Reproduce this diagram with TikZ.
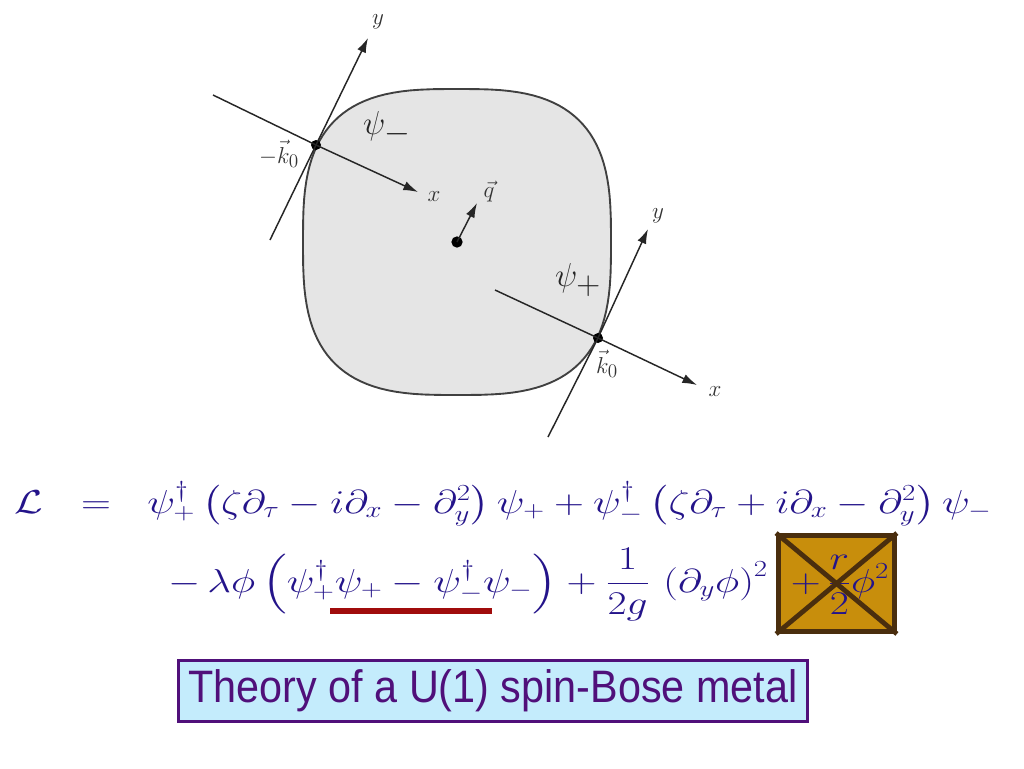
\documentclass[tikz,border=0pt]{standalone}
\usepackage{amsmath}
\usepackage{fontspec}
\setsansfont{Liberation Sans}
\usetikzlibrary{arrows.meta}

\definecolor{eqblue}{HTML}{24148A}
\definecolor{ochre}{HTML}{C88E0C}
\definecolor{darkbrown}{HTML}{4A2E0E}
\definecolor{titlecyan}{HTML}{C4ECFC}
\definecolor{titlepurple}{HTML}{50107A}
\definecolor{underred}{HTML}{A00C0C}

\newcommand{\wide}[1]{\scalebox{1.25}[1]{#1}}

\begin{document}
\begin{tikzpicture}[
        x=0.75pt, y=-0.75pt,
        every node/.style={inner sep=0pt},
        fermi/.style={draw=black!75, line width=1.4pt, fill=black!10},
        axis/.style={-{Latex[length=11pt,width=7pt]}, line width=1.1pt, draw=black!85},
        kdot/.style={circle, fill=black, minimum size=7.5pt},
        axlabel/.style={text=black!80, font=\fontsize{19}{22}\selectfont},
        psilabel/.style={text=black!85, font=\fontsize{35}{40}\selectfont},
        eqline/.style={text=eqblue, font=\fontsize{26}{31}\selectfont},
        crossbox/.style={draw=darkbrown, fill=ochre, line width=3.6pt, minimum width=87pt, minimum height=72pt},
        title/.style={draw=titlepurple, fill=titlecyan, line width=2.2pt, text=titlepurple,
                      font=\sffamily\fontsize{31}{36}\selectfont, minimum width=472pt, minimum height=46pt}
        ]
        \useasboundingbox (0,0) rectangle (1024,768);

        % Fermi surface
        \draw[fermi] plot[domain=0.5:357.5, samples=120]
            ({457+154*sign(cos(\x))*abs(cos(\x))^(0.6667)}, {242-153*sign(sin(\x))*abs(sin(\x))^(0.6667)}) -- cycle;

        % patch points and center
        \node[kdot] (kminus) at (316,145) {};
        \node[kdot] (kplus) at (598,338) {};
        \node[kdot, minimum size=8.5pt] (ctr) at (457,242) {};

        % local axes at -k0
        \coordinate (xmA) at (213,95);
        \coordinate (xmB) at (418,192);
        \coordinate (ymA) at (270,240);
        \coordinate (ymB) at (368,38);
        \draw[axis] (xmA) -- (kminus.center) -- (xmB);
        \draw[axis] (ymA) -- (kminus.center) -- (ymB);

        % local axes at +k0
        \coordinate (xpA) at (495,290);
        \coordinate (xpB) at (697,385);
        \coordinate (ypA) at (548,437);
        \coordinate (ypB) at (648,229);
        \draw[axis] (xpA) -- (kplus.center) -- (xpB);
        \draw[axis] (ypA) -- (kplus.center) -- (ypB);

        % momentum transfer
        \coordinate (qtip) at (477,203);
        \draw[axis] (ctr.center) -- (qtip);

        % labels
        \node[axlabel] (xm) at (434,197) {$x$};
        \node[axlabel] (ym) at (378,22) {$y$};
        \node[axlabel] (xp) at (715,392) {$x$};
        \node[axlabel] (yp) at (658,216) {$y$};
        \node[axlabel] (qlab) at (489,192) {$\vec{q}$};
        \node[axlabel] (kmlab) at (279,154) {$-\vec{k}_0$};
        \node[axlabel] (kplab) at (607,364) {$\vec{k}_0$};
        \node[psilabel] (psim) at (387,128) {$\psi_-$};
        \node[psilabel] (psip) at (578,280) {$\psi_+$};

        % Lagrangian
        \node[crossbox] (cross) at (836.5,583.5) {};
        \node[eqline, anchor=base] (lag) at (29,513) {\wide{$\mathcal{L}$}};
        \node[eqline, anchor=base] (eqs) at (96,513) {\wide{$=$}};
        \node[eqline, anchor=base west] (line1) at (147,513)
            {\wide{$\psi^\dagger_+\,\big(\zeta\partial_\tau - i\partial_x - \partial_y^2\big)\,\psi_+
              + \psi^\dagger_-\,\big(\zeta\partial_\tau + i\partial_x - \partial_y^2\big)\,\psi_-$}};
        \node[eqline, anchor=base west] (line2) at (168,592)
            {\wide{$\displaystyle -\,\lambda\phi\,\Big(\psi^\dagger_+\psi_+ - \psi^\dagger_-\psi_-\Big)
              + \frac{1}{2g}\,\left(\partial_y\phi\right)^2$}};
        \node[eqline, anchor=base] (massterm) at (840,592)
            {\wide{$\displaystyle +\,\frac{r}{2}\phi^2$}};
        \draw[darkbrown, line width=3.6pt] (cross.north west) -- (cross.south east);
        \draw[darkbrown, line width=3.6pt] (cross.north east) -- (cross.south west);

        % underline of the coupling term
        \coordinate (ulA) at (330,611);
        \coordinate (ulB) at (492,611);
        \draw[underred, line width=4.5pt] (ulA) -- (ulB);

        % title
        \node[title] (caption) at (493,691) {\scalebox{1}[1.1]{Theory of a U(1) spin-Bose metal}};
\end{tikzpicture}
\end{document}
